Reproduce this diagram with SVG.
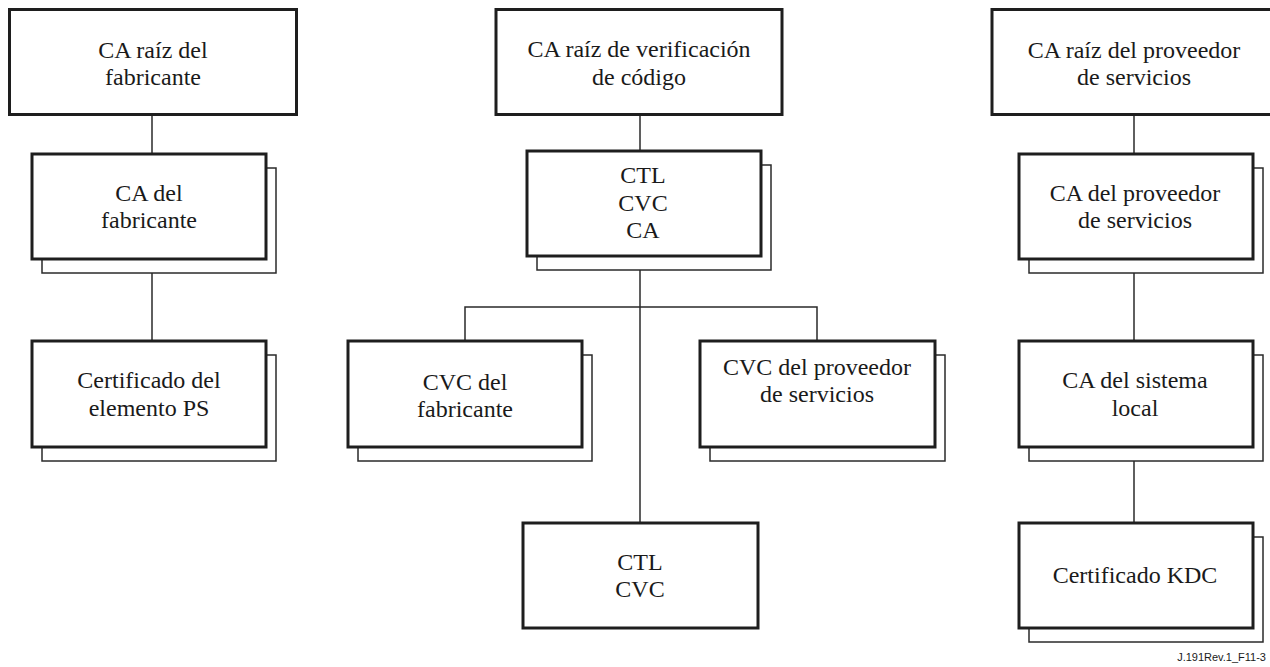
<svg xmlns="http://www.w3.org/2000/svg" width="1270" height="667" viewBox="0 0 1270 667">
  <style>
    .box { fill: #ffffff; stroke: #1e1e1e; stroke-width: 3; }
    .shadow { fill: #ffffff; stroke: #2a2a2a; stroke-width: 1.5; }
    .link { fill: none; stroke: #2a2a2a; stroke-width: 1.5; }
    .lbl { font-family: "Liberation Serif", "Times New Roman", serif; font-size: 24px; fill: #1a1a1a; text-anchor: middle; }
    .ref { font-family: "Liberation Sans", Arial, sans-serif; font-size: 11px; fill: #1a1a1a; text-anchor: end; }
  </style>
  <rect width="1270" height="667" fill="#ffffff"/>

  <!-- connectors -->
  <g id="connectors">
    <!-- left chain -->
    <line class="link" x1="152" y1="115" x2="152" y2="154"/>
    <line class="link" x1="152" y1="273" x2="152" y2="341"/>
    <!-- middle tree -->
    <line class="link" x1="640" y1="115" x2="640" y2="151"/>
    <line class="link" x1="640" y1="270" x2="640" y2="523"/>
    <polyline class="link" points="465,341 465,307 817,307 817,341"/>
    <!-- right chain -->
    <line class="link" x1="1134" y1="115" x2="1134" y2="154"/>
    <line class="link" x1="1134" y1="273" x2="1134" y2="341"/>
    <line class="link" x1="1134" y1="461" x2="1134" y2="523"/>
  </g>

  <!-- left column -->
  <g id="ca-raiz-fabricante">
    <rect class="box" x="9.5" y="9.5" width="287" height="105"/>
    <text class="lbl" x="153" y="58">CA raíz del</text>
    <text class="lbl" x="153" y="85">fabricante</text>
  </g>
  <g id="ca-fabricante">
    <rect class="shadow" x="42" y="168" width="234" height="105"/>
    <rect class="box" x="32" y="154" width="234" height="105"/>
    <text class="lbl" x="149" y="201">CA del</text>
    <text class="lbl" x="149" y="228">fabricante</text>
  </g>
  <g id="cert-elemento-ps">
    <rect class="shadow" x="42" y="355" width="234" height="106"/>
    <rect class="box" x="32" y="341" width="234" height="106"/>
    <text class="lbl" x="149" y="388">Certificado del</text>
    <text class="lbl" x="149" y="416">elemento PS</text>
  </g>

  <!-- middle column -->
  <g id="ca-raiz-verificacion">
    <rect class="box" x="496" y="9.5" width="286" height="105"/>
    <text class="lbl" x="639" y="57">CA raíz de verificación</text>
    <text class="lbl" x="639" y="85">de código</text>
  </g>
  <g id="ctl-cvc-ca">
    <rect class="shadow" x="537" y="165" width="234" height="105"/>
    <rect class="box" x="527" y="151" width="234" height="105"/>
    <text class="lbl" x="643" y="183">CTL</text>
    <text class="lbl" x="643" y="211">CVC</text>
    <text class="lbl" x="643" y="238">CA</text>
  </g>
  <g id="cvc-fabricante">
    <rect class="shadow" x="358" y="355" width="234" height="106"/>
    <rect class="box" x="348" y="341" width="234" height="106"/>
    <text class="lbl" x="465" y="390">CVC del</text>
    <text class="lbl" x="465" y="417">fabricante</text>
  </g>
  <g id="cvc-proveedor">
    <rect class="shadow" x="710" y="355" width="235" height="106"/>
    <rect class="box" x="700" y="341" width="235" height="106"/>
    <text class="lbl" x="817" y="375">CVC del proveedor</text>
    <text class="lbl" x="817" y="402">de servicios</text>
  </g>
  <g id="ctl-cvc">
    <rect class="box" x="523" y="523" width="235" height="105"/>
    <text class="lbl" x="640" y="570">CTL</text>
    <text class="lbl" x="640" y="597">CVC</text>
  </g>

  <!-- right column -->
  <g id="ca-raiz-proveedor">
    <rect class="box" x="992" y="9.5" width="287" height="105"/>
    <text class="lbl" x="1134" y="58">CA raíz del proveedor</text>
    <text class="lbl" x="1134" y="85">de servicios</text>
  </g>
  <g id="ca-proveedor">
    <rect class="shadow" x="1029" y="168" width="234" height="105"/>
    <rect class="box" x="1019" y="154" width="234" height="105"/>
    <text class="lbl" x="1135" y="201">CA del proveedor</text>
    <text class="lbl" x="1135" y="228">de servicios</text>
  </g>
  <g id="ca-sistema-local">
    <rect class="shadow" x="1029" y="355" width="234" height="106"/>
    <rect class="box" x="1019" y="341" width="234" height="106"/>
    <text class="lbl" x="1135" y="388">CA del sistema</text>
    <text class="lbl" x="1135" y="416">local</text>
  </g>
  <g id="cert-kdc">
    <rect class="shadow" x="1029" y="537" width="234" height="105"/>
    <rect class="box" x="1019" y="523" width="234" height="105"/>
    <text class="lbl" x="1135" y="583">Certificado KDC</text>
  </g>

  <text class="ref" x="1266" y="661">J.191Rev.1_F11-3</text>
</svg>
